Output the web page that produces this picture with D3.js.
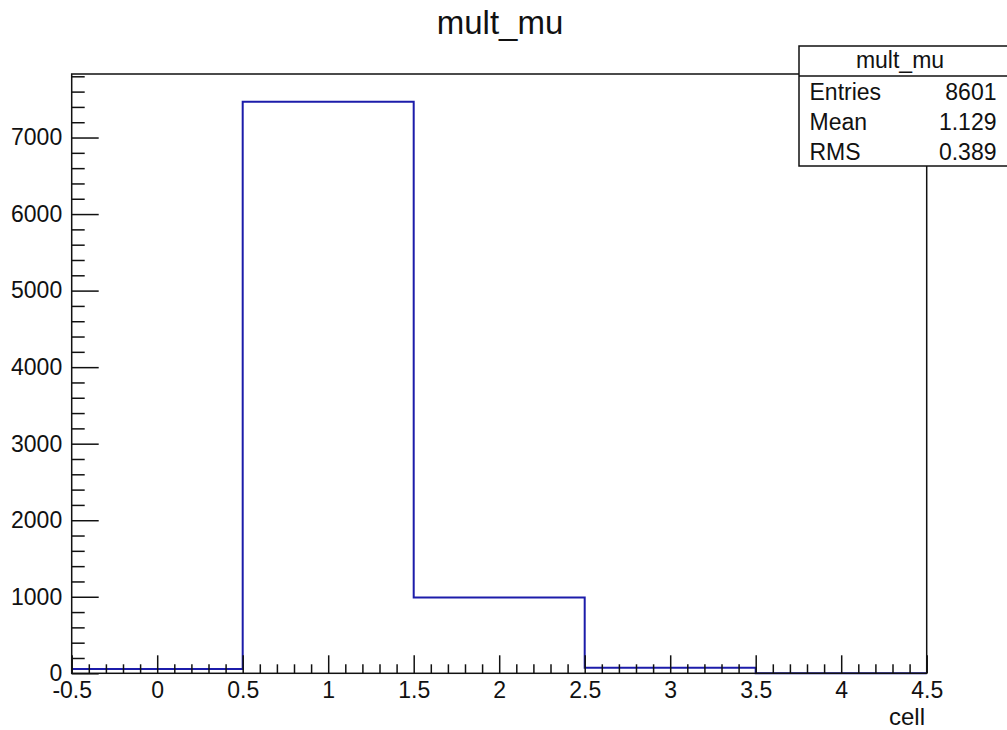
<!DOCTYPE html>
<html>
<head>
<meta charset="utf-8">
<script src="https://cdn.jsdelivr.net/npm/d3@7"></script>
<style>
  html, body { margin: 0; padding: 0; background: #fff; }
  svg { display: block; }
  text { font-family: "Liberation Sans", Arial, Helvetica, sans-serif; fill: #111; }
</style>
</head>
<body>
<svg id="chart" width="1007" height="730"></svg>
<script>
// ---- data ----
const chartTitle = "mult_mu";
const xAxisTitle = "cell";
const binEdges = [-0.5, 0.5, 1.5, 2.5, 3.5, 4.5];
const binCounts = [55, 7466, 991, 73, 0];
const yMax = 7830;
const xMajorTicks = [-0.5, 0, 0.5, 1, 1.5, 2, 2.5, 3, 3.5, 4, 4.5];
const xTickLabels = ["-0.5", "0", "0.5", "1", "1.5", "2", "2.5", "3", "3.5", "4", "4.5"];
const yMajorTicks = [0, 1000, 2000, 3000, 4000, 5000, 6000, 7000];
const yTickLabels = ["0", "1000", "2000", "3000", "4000", "5000", "6000", "7000"];
const statsHeader = "mult_mu";
const statsLabels = ["Entries", "Mean", "RMS"];
const statsValues = ["8601", "1.129", "0.389"];

// ---- layout ----
const frame = { left: 71.7, right: 926.7, top: 74, bottom: 673.3 };
const svg = d3.select("#chart");

const x = d3.scaleLinear().domain([binEdges[0], binEdges[binEdges.length - 1]]).range([frame.left, frame.right]);
const y = d3.scaleLinear().domain([0, yMax]).range([frame.bottom, frame.top]);

// minor ticks
const xMinor = d3.range(-0.5, 4.5001, 0.1).map(v => Math.round(v * 10) / 10)
  .filter(v => !xMajorTicks.some(m => Math.abs(m - v) < 1e-6));
const yMinor = d3.range(0, yMax + 1, 200).filter(v => v % 1000 !== 0);

// histogram outline
const pts = [];
binCounts.forEach((c, i) => {
  pts.push([binEdges[i], c]);
  pts.push([binEdges[i + 1], c]);
});
const line = d3.line().x(d => x(d[0])).y(d => y(d[1]));
svg.append("path")
  .attr("d", line(pts))
  .attr("fill", "none")
  .attr("stroke", "#1c1caa")
  .attr("stroke-width", 2);

// axes
const xAxisMajor = d3.axisBottom(x).tickValues(xMajorTicks)
  .tickFormat((d, i) => xTickLabels[i]).tickSizeInner(-18).tickSizeOuter(0).tickPadding(8);
const xAxisMinor = d3.axisBottom(x).tickValues(xMinor).tickFormat("").tickSizeInner(-9).tickSizeOuter(0);
const yAxisMajor = d3.axisLeft(y).tickValues(yMajorTicks)
  .tickFormat((d, i) => yTickLabels[i]).tickSizeInner(-27).tickSizeOuter(0).tickPadding(9.5);
const yAxisMinor = d3.axisLeft(y).tickValues(yMinor).tickFormat("").tickSizeInner(-13).tickSizeOuter(0);

function styleAxis(g) {
  g.select(".domain").remove();
  g.selectAll("line").attr("stroke", "#111").attr("stroke-width", 1.5);
  g.selectAll("text").attr("font-size", 23).attr("font-family", "Liberation Sans, Arial, sans-serif").attr("fill", "#111");
}
svg.append("g").attr("transform", `translate(0,${frame.bottom})`).call(xAxisMinor).call(styleAxis);
svg.append("g").attr("transform", `translate(0,${frame.bottom})`).call(xAxisMajor).call(styleAxis);
svg.append("g").attr("transform", `translate(${frame.left},0)`).call(yAxisMinor).call(styleAxis);
svg.append("g").attr("transform", `translate(${frame.left},0)`).call(yAxisMajor).call(styleAxis);

// frame
svg.append("rect")
  .attr("x", frame.left).attr("y", frame.top)
  .attr("width", frame.right - frame.left).attr("height", frame.bottom - frame.top)
  .attr("fill", "none").attr("stroke", "#111").attr("stroke-width", 1.5);

// title
svg.append("text").attr("x", 500).attr("y", 33.5).attr("text-anchor", "middle")
  .attr("font-size", 33).text(chartTitle);

// x axis title
svg.append("text").attr("x", 925).attr("y", 725).attr("text-anchor", "end")
  .attr("font-size", 24).text(xAxisTitle);

// stats box
const box = { left: 799, top: 46, right: 1012, header: 76, bottom: 166 };
svg.append("rect").attr("x", box.left).attr("y", box.top)
  .attr("width", box.right - box.left).attr("height", box.bottom - box.top)
  .attr("fill", "#fff").attr("stroke", "#111").attr("stroke-width", 1.5);
svg.append("line").attr("x1", box.left).attr("x2", box.right)
  .attr("y1", box.header).attr("y2", box.header).attr("stroke", "#111").attr("stroke-width", 1.5);
svg.append("text").attr("x", 900).attr("y", 67.5).attr("text-anchor", "middle")
  .attr("font-size", 23).text(statsHeader);
const rowBaselines = [100, 130, 160];
statsLabels.forEach((lab, i) => {
  svg.append("text").attr("x", 809.5).attr("y", rowBaselines[i]).attr("font-size", 23).text(lab);
  svg.append("text").attr("x", 996.5).attr("y", rowBaselines[i]).attr("text-anchor", "end")
    .attr("font-size", 23).text(statsValues[i]);
});
</script>
</body>
</html>
